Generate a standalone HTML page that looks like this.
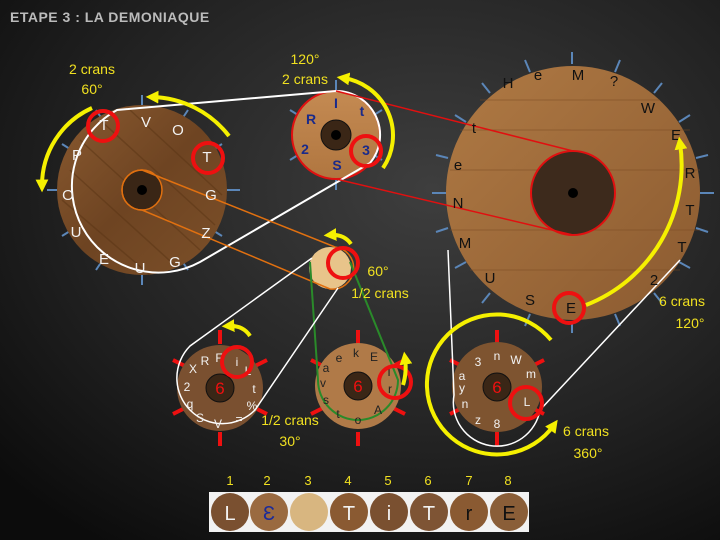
<!DOCTYPE html>
<html><head><meta charset="utf-8"><style>
html,body{margin:0;padding:0;background:#111;}
svg{display:block}
text{font-family:"Liberation Sans",sans-serif;}
</style></head><body>
<svg width="720" height="540" viewBox="0 0 720 540" xmlns="http://www.w3.org/2000/svg">
<defs>
<radialGradient id="bg" cx="0.6" cy="0.35" r="0.8"><stop offset="0" stop-color="#3e3e3e"/><stop offset="0.6" stop-color="#222"/><stop offset="1" stop-color="#0c0c0c"/></radialGradient>
<linearGradient id="wd" x1="0" y1="0" x2="1" y2="1"><stop offset="0" stop-color="#8a5a30"/><stop offset="0.5" stop-color="#6e4422"/><stop offset="1" stop-color="#7c5029"/></linearGradient>
<linearGradient id="wl" x1="0" y1="0" x2="0" y2="1"><stop offset="0" stop-color="#c48a52"/><stop offset="1" stop-color="#b07640"/></linearGradient>
<linearGradient id="wm" x1="0" y1="0" x2="1" y2="1"><stop offset="0" stop-color="#b07a44"/><stop offset="1" stop-color="#8a5a30"/></linearGradient>
<marker id="ah" viewBox="0 0 10 10" refX="5" refY="5" markerWidth="3.2" markerHeight="3.2" orient="auto"><path d="M0,0 L10,5 L0,10 z" fill="#f5f000"/></marker>
</defs>
<rect width="720" height="540" fill="url(#bg)"/>
<text x="10" y="22" font-size="14" fill="#bbb" font-weight="bold" letter-spacing="0.5">ETAPE 3 : LA DEMONIAQUE</text>

<g stroke="#5b86b8" stroke-width="2">
<line x1="142" y1="95" x2="142" y2="105"/><line x1="142" y1="275" x2="142" y2="285"/>
<line x1="47" y1="190" x2="57" y2="190"/><line x1="227" y1="190" x2="240" y2="190"/>
<line x1="96" y1="110" x2="102" y2="119"/><line x1="188" y1="110" x2="182" y2="119"/>
<line x1="62" y1="144" x2="70" y2="149"/><line x1="222" y1="144" x2="214" y2="149"/>
<line x1="62" y1="236" x2="70" y2="231"/><line x1="222" y1="236" x2="214" y2="231"/>
<line x1="96" y1="270" x2="102" y2="261"/><line x1="188" y1="270" x2="182" y2="261"/>
<line x1="336" y1="80" x2="336" y2="92"/><line x1="336" y1="178" x2="336" y2="190"/>
<line x1="290" y1="110" x2="298" y2="115"/><line x1="290" y1="160" x2="298" y2="155"/>
<line x1="382" y1="110" x2="374" y2="115"/><line x1="382" y1="160" x2="374" y2="155"/>
<line x1="572" y1="52" x2="572" y2="64"/><line x1="572" y1="321" x2="572" y2="333"/>
<line x1="432" y1="193" x2="446" y2="193"/><line x1="700" y1="193" x2="714" y2="193"/>
<line x1="436" y1="155" x2="448" y2="158"/><line x1="436" y1="232" x2="448" y2="228"/>
<line x1="708" y1="155" x2="696" y2="158"/><line x1="708" y1="232" x2="696" y2="228"/>
<line x1="482" y1="83" x2="490" y2="93"/><line x1="662" y1="83" x2="654" y2="93"/>
<line x1="482" y1="303" x2="490" y2="293"/><line x1="662" y1="303" x2="654" y2="293"/>
<line x1="525" y1="60" x2="530" y2="72"/><line x1="620" y1="60" x2="615" y2="72"/>
<line x1="525" y1="326" x2="530" y2="314"/><line x1="620" y1="326" x2="615" y2="314"/>
<line x1="455" y1="115" x2="466" y2="122"/><line x1="690" y1="115" x2="679" y2="122"/>
<line x1="455" y1="268" x2="466" y2="262"/><line x1="690" y1="268" x2="679" y2="262"/>
</g>

<circle cx="142" cy="190" r="85" fill="url(#wd)"/>
<g stroke="#5a3515" stroke-width="1.5" opacity="0.5">
<line x1="80" y1="140" x2="200" y2="250"/><line x1="70" y1="170" x2="180" y2="270"/><line x1="100" y1="120" x2="215" y2="225"/><line x1="130" y1="110" x2="222" y2="195"/><line x1="62" y1="200" x2="150" y2="275"/>
</g>
<circle cx="142" cy="190" r="20" fill="#3a2616" stroke="#e07010" stroke-width="1.5"/><circle cx="142" cy="190" r="5" fill="#000"/>

<circle cx="336" cy="135" r="44" fill="url(#wl)" stroke="#e01010" stroke-width="2"/>
<circle cx="336" cy="135" r="15" fill="#3a2616" stroke="#111"/><circle cx="336" cy="135" r="5" fill="#000"/>

<circle cx="573" cy="193" r="127" fill="url(#wm)"/>
<g stroke="#7a4a22" stroke-width="1" opacity="0.5">
<line x1="460" y1="130" x2="690" y2="130"/><line x1="450" y1="170" x2="700" y2="170"/><line x1="450" y1="230" x2="700" y2="230"/><line x1="470" y1="270" x2="680" y2="270"/><line x1="480" y1="100" x2="660" y2="100"/>
</g>
<circle cx="573" cy="193" r="42" fill="#3d2a1c" stroke="#e01010" stroke-width="2"/><circle cx="573" cy="193" r="5" fill="#000"/>

<circle cx="330" cy="268" r="21" fill="#e8c48a"/>

<g stroke="#ee1010" stroke-width="4">
<line x1="220" y1="330" x2="220" y2="344"/><line x1="220" y1="432" x2="220" y2="446"/><line x1="173" y1="360" x2="185" y2="366"/><line x1="267" y1="360" x2="255" y2="366"/><line x1="173" y1="414" x2="185" y2="408"/><line x1="267" y1="414" x2="255" y2="408"/>
<line x1="358" y1="330" x2="358" y2="344"/><line x1="358" y1="432" x2="358" y2="446"/><line x1="311" y1="360" x2="323" y2="366"/><line x1="405" y1="360" x2="393" y2="366"/><line x1="311" y1="414" x2="323" y2="408"/><line x1="405" y1="414" x2="393" y2="408"/>
<line x1="497" y1="330" x2="497" y2="344"/><line x1="497" y1="432" x2="497" y2="446"/><line x1="450" y1="360" x2="462" y2="366"/><line x1="544" y1="360" x2="532" y2="366"/><line x1="450" y1="414" x2="462" y2="408"/><line x1="544" y1="414" x2="532" y2="408"/>
</g>
<circle cx="220" cy="388" r="43" fill="#7a5030"/>
<circle cx="358" cy="386" r="43" fill="#b07a48"/>
<circle cx="497" cy="387" r="45" fill="#7e5430"/>
<g fill="#3a2616" stroke="#111"><circle cx="220" cy="388" r="14"/><circle cx="358" cy="386" r="14"/><circle cx="497" cy="387" r="14"/></g>
<g fill="#ee1010" font-size="17" text-anchor="middle"><text x="220" y="394">6</text><text x="358" y="392">6</text><text x="497" y="393">6</text></g>

<path d="M117,110 L336,91 A44,44 0 0 1 370,163 L200,262 A85,85 0 1 1 117,110 Z" fill="none" stroke="#fff" stroke-width="2"/>
<path d="M336,91 L573,151 M336,179 L573,235" stroke="#e01010" stroke-width="1.5"/>
<path d="M142,170 L335,247 A21,21 0 0 1 330,289 L142,210 A20,20 0 0 1 142,170 Z" fill="none" stroke="#e07010" stroke-width="1.5"/>
<path d="M310,262 L318,380 A40,40 0 0 0 398,380 L350,262" fill="none" stroke="#2a8a2a" stroke-width="2"/>
<path d="M312,258 L190,346 A43,43 0 1 0 255,410 L338,288" fill="none" stroke="#fff" stroke-width="1.5"/>
<path d="M448,250 L454,395 A43,43 0 0 0 540,410 L680,260" fill="none" stroke="#fff" stroke-width="1.5"/>

<g fill="#f2f2f2" font-size="15" text-anchor="middle">
<text x="104" y="130">T</text><text x="146" y="127">V</text><text x="178" y="135">O</text><text x="207" y="162">T</text><text x="211" y="200">G</text><text x="206" y="238">Z</text><text x="175" y="267">G</text><text x="140" y="273">U</text><text x="104" y="264">E</text><text x="76" y="237">U</text><text x="68" y="200">O</text><text x="77" y="160">P</text>
</g>
<g fill="#1a2a8a" font-size="14" text-anchor="middle" font-weight="bold">
<text x="336" y="108">I</text><text x="311" y="124">R</text><text x="362" y="116">t</text><text x="305" y="154">2</text><text x="337" y="170">S</text><text x="366" y="155">3</text>
</g>
<g fill="#111" font-size="15" text-anchor="middle">
<text x="508" y="88">H</text><text x="538" y="80">e</text><text x="578" y="80">M</text><text x="614" y="86">?</text><text x="648" y="113">W</text><text x="676" y="140">E</text><text x="690" y="178">R</text><text x="690" y="215">T</text><text x="682" y="252">T</text><text x="654" y="285">2</text><text x="474" y="133">t</text><text x="458" y="170">e</text><text x="458" y="208">N</text><text x="465" y="248">M</text><text x="490" y="283">U</text><text x="530" y="305">S</text><text x="571" y="313">E</text>
</g>
<g fill="#f2f2f2" font-size="12" text-anchor="middle">
<text x="193" y="373">X</text><text x="205" y="365">R</text><text x="219" y="362">F</text><text x="237" y="366">i</text><text x="248" y="375">L</text><text x="254" y="393">t</text><text x="252" y="410">%</text><text x="239" y="423">=</text><text x="218" y="428">V</text><text x="200" y="422">S</text><text x="190" y="408">q</text><text x="187" y="391">2</text>
<text x="462" y="380">a</text><text x="478" y="366">3</text><text x="497" y="360">n</text><text x="516" y="364">W</text><text x="531" y="378">m</text><text x="527" y="406">L</text><text x="497" y="428">8</text><text x="478" y="424">z</text><text x="465" y="408">n</text><text x="462" y="392">y</text>
</g>
<g fill="#222" font-size="12" text-anchor="middle">
<text x="339" y="362">e</text><text x="356" y="357">k</text><text x="374" y="361">E</text><text x="389" y="376">I</text><text x="390" y="393">r</text><text x="378" y="414">A</text><text x="358" y="424">o</text><text x="338" y="418">t</text><text x="326" y="404">s</text><text x="323" y="387">v</text><text x="326" y="372">a</text>
</g>

<g fill="none" stroke="#ee1010" stroke-width="4">
<circle cx="103" cy="126" r="15"/><circle cx="208" cy="158" r="15"/><circle cx="366" cy="151" r="15"/><circle cx="343" cy="263" r="15"/>
<circle cx="569" cy="308" r="15"/><circle cx="237" cy="362" r="15"/><circle cx="395" cy="382" r="16"/><circle cx="526" cy="403" r="16"/>
</g>

<g fill="none" stroke="#f5f000" stroke-width="4">
<path d="M92,108 A85,85 0 0 0 42,186" marker-end="url(#ah)"/>
<path d="M229,136 A100,100 0 0 0 152,97" marker-end="url(#ah)"/>
<path d="M383,168 A58,58 0 0 0 343,78" marker-end="url(#ah)"/>
<path d="M351,244 Q344,234 330,235" marker-end="url(#ah)"/>
<path d="M250,336 Q243,325 228,326" marker-end="url(#ah)"/>
<path d="M403,385 Q407,372 405,358" marker-end="url(#ah)"/>
<path d="M586,305 A150,150 0 0 0 680,143" marker-end="url(#ah)"/>
<path d="M551,340 A70,70 0 1 0 554,425" marker-end="url(#ah)"/>
</g>

<g fill="#f0e020" font-size="14" text-anchor="middle">
<text x="92" y="74">2 crans</text><text x="92" y="94">60°</text>
<text x="305" y="64">120°</text><text x="305" y="84">2 crans</text>
<text x="378" y="276">60°</text><text x="380" y="298">1/2 crans</text>
<text x="290" y="425">1/2 crans</text><text x="290" y="446">30°</text>
<text x="682" y="306">6 crans</text><text x="690" y="328">120°</text>
<text x="586" y="436">6 crans</text><text x="588" y="458">360°</text>
<g font-size="13"><text x="230" y="485">1</text><text x="267" y="485">2</text><text x="308" y="485">3</text><text x="348" y="485">4</text><text x="388" y="485">5</text><text x="428" y="485">6</text><text x="469" y="485">7</text><text x="508" y="485">8</text></g>
</g>

<rect x="209" y="492" width="320" height="40" fill="#f2f2f2"/>
<g>
<circle cx="230" cy="512" r="19" fill="#7a5030"/><circle cx="269" cy="512" r="19" fill="#9a6a40"/><circle cx="309" cy="512" r="19" fill="#d8b680"/><circle cx="349" cy="512" r="19" fill="#8a5a32"/><circle cx="389" cy="512" r="19" fill="#7a5030"/><circle cx="429" cy="512" r="19" fill="#7e5434"/><circle cx="469" cy="512" r="19" fill="#8a5a32"/><circle cx="509" cy="512" r="19" fill="#8a5e38"/>
</g>
<g font-size="20" text-anchor="middle"><text x="230" y="520" fill="#f2f2f2">L</text><text x="269" y="520" fill="#1a2a9a">Ɛ</text><text x="349" y="520" fill="#f2f2f2">T</text><text x="389" y="520" fill="#f2f2f2">i</text><text x="429" y="520" fill="#f2f2f2">T</text><text x="469" y="520" fill="#111">r</text><text x="509" y="520" fill="#111">E</text></g>
</svg>
</body></html>
